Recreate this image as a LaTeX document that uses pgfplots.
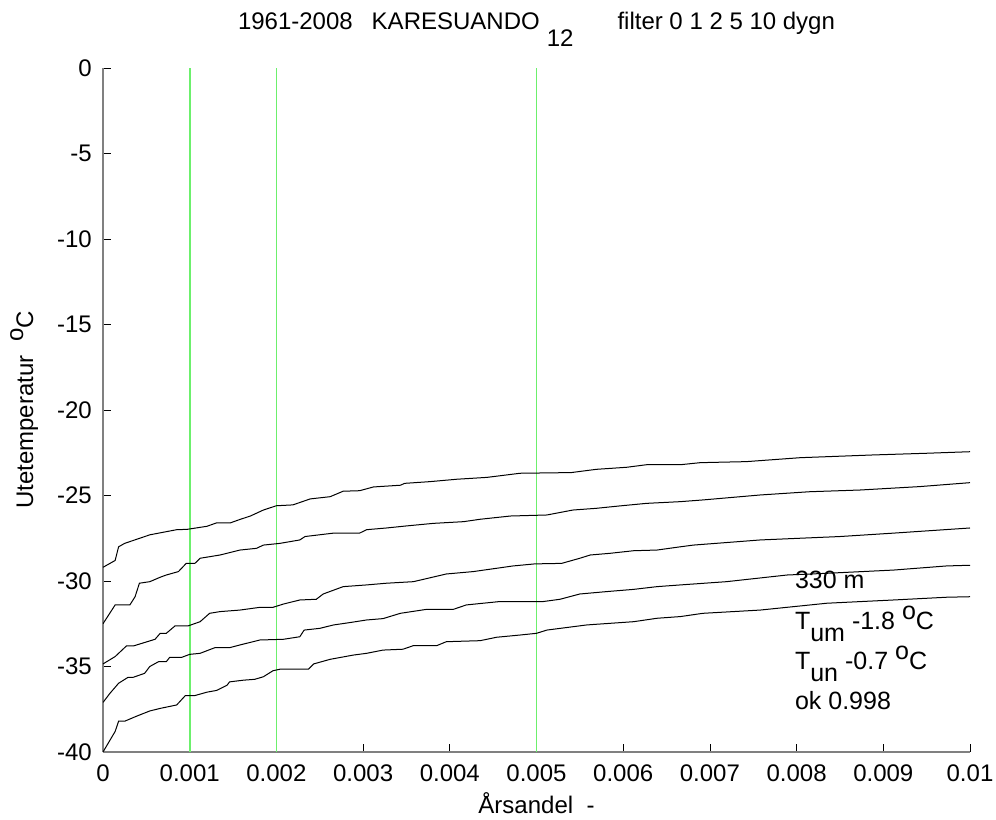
\documentclass[border=0pt]{standalone}
\usepackage{fontspec}
\setmainfont{Liberation Sans}
\usepackage{pgfplots}
\pgfplotsset{compat=1.18}
\definecolor{lgreen}{RGB}{108,240,108}
\definecolor{axgray}{RGB}{128,128,128}
\newcommand\dn[2][12pt]{\raisebox{-#1}{#2}}
\newcommand\up[1]{\raisebox{10pt}{#1}}
\newcommand\fnt{\fontsize{24}{28}\selectfont}
\newcommand\fnta{\fontsize{25}{29}\selectfont}
\begin{document}
\fnt
\begin{tikzpicture}
\begin{axis}[
  scale only axis, width=867pt, height=684pt,
  xmin=0, xmax=0.01, ymin=-40, ymax=0,
  axis x line=bottom, axis y line=left,
  axis line style={-, draw=axgray, line width=1.1pt},
  xtick={0,0.001,0.002,0.003,0.004,0.005,0.006,0.007,0.008,0.009,0.01},
  xticklabels={0,0.001,0.002,0.003,0.004,0.005,0.006,0.007,0.008,0.009,0.01},
  ytick={-40,-35,-30,-25,-20,-15,-10,-5,0},
  yticklabels={-40,-35,-30,-25,-20,-15,-10,-5,0},
  scaled x ticks=false,
  tick align=inside, major tick length=8pt,
  tick style={black, line width=0.8pt},
  /pgf/number format/assume math mode=true,
  tick label style={font=\fnt},
  xticklabel style={yshift=-5pt},
  yticklabel style={xshift=-3pt},
  label style={font=\fnt},
  xlabel={Årsandel\ \ -},
  xlabel style={at={(axis description cs:0.5,-0.0906)}, anchor=base},
  ylabel={Utetemperatur\ \ \up{o}C},
  ylabel style={at={(axis description cs:-0.0807,0.5)}, anchor=base},
  title={1961-2008\hspace{19pt}KARESUANDO\hspace{7pt}\dn[17pt]{12}\hspace{44pt}filter 0 1 2 5 10 dygn},
  title style={at={(axis description cs:0.5,1.048)}, anchor=base, font=\fnt},
  clip=true,
]
\addplot[lgreen, line width=2pt] coordinates {(0.001,-40)(0.001,0)};
\addplot[lgreen, line width=0.6pt] coordinates {(0.002,-40)(0.002,0)};
\addplot[lgreen, line width=0.6pt] coordinates {(0.005,-40)(0.005,0)};
% curve 1
\addplot[black, line width=1pt] coordinates {(0,-29.2)(0.00014,-28.8)(0.00018,-28.0)(0.00025,-27.8)(0.00054,-27.3)(0.00085,-27.0)(0.00097,-26.98)(0.0012,-26.8)(0.00131,-26.6)(0.00147,-26.6)(0.00158,-26.4)(0.0017,-26.2)(0.00185,-25.85)(0.002,-25.6)(0.00219,-25.55)(0.00239,-25.2)(0.00262,-25.07)(0.00277,-24.75)(0.00296,-24.72)(0.00312,-24.5)(0.00343,-24.4)(0.00348,-24.29)(0.00377,-24.19)(0.00408,-24.05)(0.00443,-23.94)(0.00481,-23.7)(0.0054,-23.66)(0.00569,-23.47)(0.00604,-23.35)(0.00627,-23.2)(0.00666,-23.2)(0.00689,-23.08)(0.00742,-23.02)(0.00804,-22.79)(0.00888,-22.63)(0.0095,-22.53)(0.01,-22.44)};
% curve 2
\addplot[black, line width=1pt] coordinates {(0,-32.5)(0.00014,-31.4)(0.00031,-31.4)(0.00037,-30.92)(0.00042,-30.13)(0.00054,-30.04)(0.00066,-29.78)(0.00073,-29.65)(0.00087,-29.45)(0.00096,-28.97)(0.00106,-28.97)(0.00112,-28.67)(0.00135,-28.48)(0.00158,-28.19)(0.00177,-28.09)(0.00185,-27.9)(0.00204,-27.8)(0.00227,-27.6)(0.00233,-27.4)(0.00266,-27.2)(0.00296,-27.2)(0.00304,-27.0)(0.00327,-26.9)(0.0035,-26.78)(0.00381,-26.63)(0.00416,-26.53)(0.00435,-26.39)(0.0047,-26.2)(0.00512,-26.14)(0.00542,-25.85)(0.00569,-25.75)(0.00596,-25.61)(0.00627,-25.46)(0.00666,-25.36)(0.00692,-25.26)(0.00758,-24.97)(0.00815,-24.78)(0.00873,-24.68)(0.00942,-24.48)(0.01,-24.25)};
% curve 3
\addplot[black, line width=1pt] coordinates {(0,-34.85)(0.00014,-34.42)(0.00027,-33.8)(0.00035,-33.8)(0.0006,-33.41)(0.00066,-33.06)(0.00073,-33.06)(0.00083,-32.63)(0.00098,-32.63)(0.00112,-32.38)(0.00123,-31.89)(0.00135,-31.79)(0.00158,-31.7)(0.00181,-31.54)(0.00196,-31.54)(0.00208,-31.35)(0.00227,-31.11)(0.00246,-31.07)(0.00254,-30.76)(0.00277,-30.33)(0.00304,-30.23)(0.00327,-30.13)(0.00358,-30.04)(0.00396,-29.59)(0.00427,-29.45)(0.00473,-29.12)(0.00498,-29.0)(0.00529,-28.97)(0.0055,-28.67)(0.00562,-28.48)(0.00585,-28.38)(0.00612,-28.23)(0.00639,-28.19)(0.00666,-28.0)(0.00681,-27.9)(0.00758,-27.6)(0.0085,-27.4)(0.00912,-27.2)(0.01,-26.9)};
% curve 4
\addplot[black, line width=1pt] coordinates {(0,-37.1)(0.00008,-36.57)(0.00018,-35.98)(0.00029,-35.63)(0.00035,-35.63)(0.00048,-35.4)(0.00054,-35.0)(0.00064,-34.72)(0.00073,-34.72)(0.00077,-34.46)(0.00091,-34.46)(0.001,-34.29)(0.00112,-34.23)(0.00129,-33.9)(0.00146,-33.9)(0.00158,-33.74)(0.00181,-33.45)(0.00208,-33.41)(0.00227,-33.26)(0.00232,-32.87)(0.0025,-32.77)(0.00266,-32.57)(0.00285,-32.43)(0.00304,-32.28)(0.00323,-32.2)(0.00343,-31.89)(0.00373,-31.66)(0.00404,-31.66)(0.00419,-31.4)(0.00458,-31.2)(0.00508,-31.2)(0.00527,-31.07)(0.0055,-30.76)(0.00581,-30.62)(0.00612,-30.49)(0.00639,-30.33)(0.00666,-30.23)(0.00719,-30.04)(0.00789,-29.65)(0.00835,-29.55)(0.00912,-29.36)(0.00973,-29.12)(0.01,-29.08)};
% curve 5
\addplot[black, line width=1pt] coordinates {(0,-40.0)(0.00014,-38.8)(0.00018,-38.2)(0.00025,-38.2)(0.00039,-37.9)(0.00054,-37.6)(0.00066,-37.45)(0.00085,-37.25)(0.00095,-36.7)(0.00106,-36.7)(0.0012,-36.5)(0.00131,-36.4)(0.00143,-36.1)(0.00146,-35.9)(0.00162,-35.8)(0.00175,-35.75)(0.00185,-35.6)(0.00196,-35.25)(0.00204,-35.16)(0.00237,-35.16)(0.00243,-34.85)(0.00262,-34.58)(0.00289,-34.33)(0.00304,-34.23)(0.00323,-34.04)(0.00346,-33.99)(0.00358,-33.78)(0.00385,-33.78)(0.00396,-33.55)(0.00435,-33.49)(0.00454,-33.29)(0.00481,-33.16)(0.005,-33.06)(0.00512,-32.87)(0.00558,-32.57)(0.00612,-32.38)(0.00639,-32.18)(0.00666,-32.08)(0.00692,-31.89)(0.00758,-31.7)(0.00835,-31.3)(0.00912,-31.11)(0.00973,-30.95)(0.01,-30.92)};
\node[anchor=base west, inner sep=0pt, font=\fnta] at (axis cs:0.00798,-30.41) {330 m};
\node[anchor=base west, inner sep=0pt, font=\fnta] at (axis cs:0.00798,-32.81) {T\dn{um} -1.8 \up{o}C};
\node[anchor=base west, inner sep=0pt, font=\fnta] at (axis cs:0.00798,-35.15) {T\dn{un} -0.7 \up{o}C};
\node[anchor=base west, inner sep=0pt, font=\fnta] at (axis cs:0.00798,-37.49) {ok 0.998};
\end{axis}
\pgfresetboundingbox
\path[use as bounding box] ([shift={(-103pt,-68pt)}]current axis.south west) rectangle ([shift={(26pt,68pt)}]current axis.north east);
\end{tikzpicture}
\end{document}
